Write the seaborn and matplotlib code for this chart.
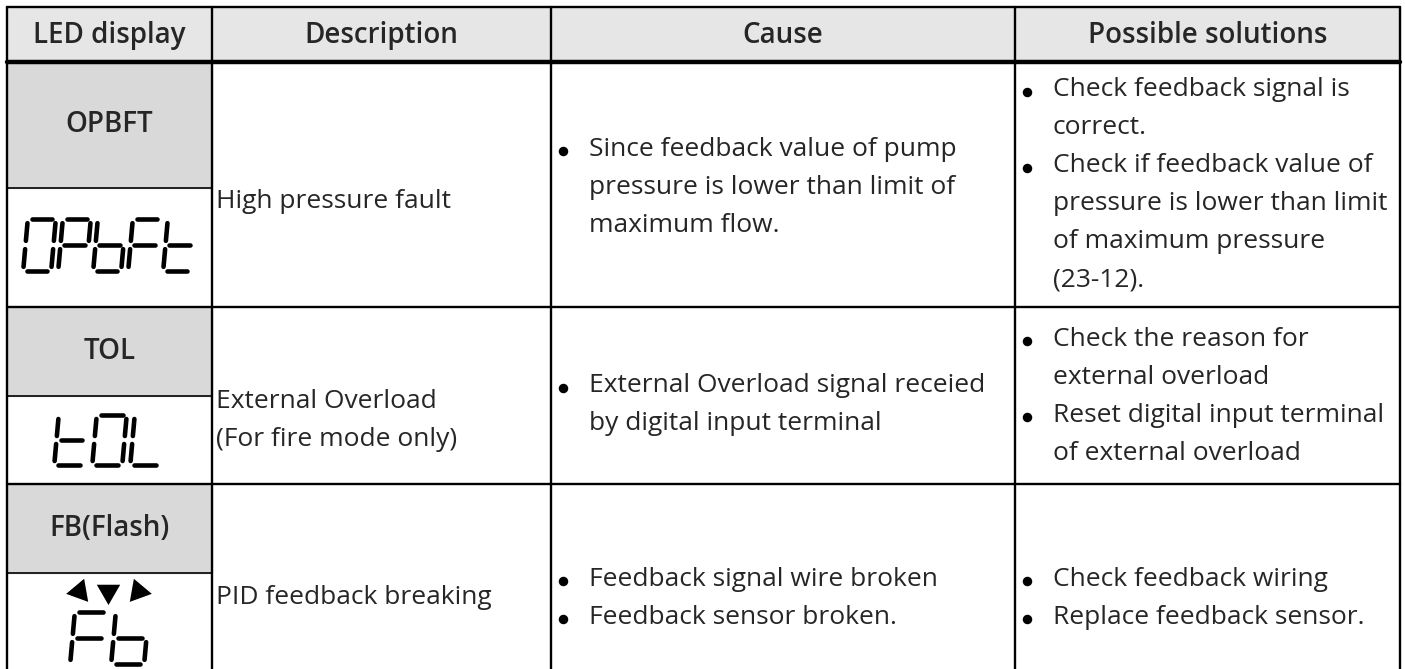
import numpy as np
import matplotlib.pyplot as plt
import seaborn as sns

# table content
headers = ["LED display", "Description", "Cause", "Possible solutions"]
led_codes = ["OPBFT", "TOL", "FB(Flash)"]
led_glyphs = ["OPbFt", "tOL", "Fb"]
descriptions = [["High pressure fault"],
                ["External Overload", "(For fire mode only)"],
                ["PID feedback breaking"]]
causes = [[["Since feedback value of pump", "pressure is lower than limit of", "maximum flow."]],
          [["External Overload signal receied", "by digital input terminal"]],
          [["Feedback signal wire broken"], ["Feedback sensor broken."]]]
solutions = [[["Check feedback signal is", "correct."],
              ["Check if feedback value of", "pressure is lower than limit",
               "of maximum pressure", "(23-12)."]],
             [["Check the reason for", "external overload"],
              ["Reset digital input terminal", "of external overload"]],
             [["Check feedback wiring"], ["Replace feedback sensor."]]]

# seven segment map
SEGMENTS = {
    "O": "abcdef", "P": "abefg", "b": "cdefg", "F": "aefg",
    "t": "defg", "L": "def",
}
SEG_POS = {
    "a": ((0.14, 1.0), (0.86, 1.0)),
    "b": ((1.0, 0.92), (1.0, 0.58)),
    "c": ((1.0, 0.42), (1.0, 0.08)),
    "d": ((0.14, 0.0), (0.86, 0.0)),
    "e": ((0.0, 0.42), (0.0, 0.08)),
    "f": ((0.0, 0.92), (0.0, 0.58)),
    "g": ((0.14, 0.5), (0.86, 0.5)),
}

# layout (pixels)
W, H = 1405, 669
col_x = [7, 212, 551, 1015, 1400]
top, head_bot = 7, 62
row_y = [62, 307, 484, 712]
gray_bot = [188, 396, 573]
desc_cy = [201, 420, 598]
cause_cy = [187, 405, 598]
sol_cy = [185, 396, 598]
pitch = 38
body_fs = 19
bold_fs = 20

sns.set_theme(style="white")
plt.rcParams['font.family'] = ['Open Sans', 'DejaVu Sans']

fig = plt.figure(figsize=(W / 100, H / 100), dpi=100)
ax = fig.add_axes([0, 0, 1, 1])
ax.set_xlim(0, W)
ax.set_ylim(H, 0)
ax.axis('off')

# backgrounds
ax.add_patch(plt.Rectangle((col_x[0], top), col_x[-1] - col_x[0], head_bot - top,
                           color='#e6e6e6', zorder=0))
for i in range(3):
    ax.add_patch(plt.Rectangle((col_x[0], row_y[i]), col_x[1] - col_x[0],
                               gray_bot[i] - row_y[i], color='#d9d9d9', zorder=0))

# grid lines
lw = 1.7
for x in col_x:
    ax.plot([x, x], [top, H], color='black', lw=lw, zorder=3)
ax.plot([col_x[0], col_x[-1]], [top, top], color='black', lw=lw, zorder=3)
ax.plot([col_x[0], col_x[-1]], [head_bot, head_bot], color='black', lw=3.2, zorder=3)
for y in row_y[1:-1]:
    ax.plot([col_x[0], col_x[-1]], [y, y], color='black', lw=lw, zorder=3)
for y in gray_bot:
    ax.plot([col_x[0], col_x[1]], [y, y], color='black', lw=1.2, zorder=3)

# headers
for i, h in enumerate(headers):
    ax.text((col_x[i] + col_x[i + 1]) / 2, (top + head_bot) / 2 + 1, h,
            ha='center', va='center', fontsize=bold_fs, fontweight='semibold')


def draw_glyphs(text, cx, cy, dw, dh, step, slant=0.09):
    n = len(text)
    total = (n - 1) * step + dw
    x0 = cx - total / 2
    for k, ch in enumerate(text):
        left = x0 + k * step
        for s in SEGMENTS[ch]:
            (u1, v1), (u2, v2) = SEG_POS[s]
            xs = [left + u1 * dw + (v1 - 0.5) * dh * slant,
                  left + u2 * dw + (v2 - 0.5) * dh * slant]
            ys = [cy + dh / 2 - v1 * dh, cy + dh / 2 - v2 * dh]
            ax.plot(xs, ys, color='black', lw=3.3, solid_capstyle='round', zorder=4)


def draw_lines(lines, x, cy):
    n = len(lines)
    for j, line in enumerate(lines):
        ax.text(x, cy + (j - (n - 1) / 2) * pitch, line, ha='left', va='center',
                fontsize=body_fs)


def draw_bullets(items, x, cy):
    flat = [(k, line) for k, item in enumerate(items) for line in item]
    n = len(flat)
    for j, (k, line) in enumerate(flat):
        y = cy + (j - (n - 1) / 2) * pitch
        if j == 0 or flat[j - 1][0] != k:
            ax.scatter([x + 12], [y + 2], s=34, color='black', zorder=4)
        ax.text(x + 38, y, line, ha='left', va='center', fontsize=body_fs)


# (digit width, digit height, digit step, centre y)
glyph_size = [(28, 52, 35, 245), (30, 50, 38, 440), (33, 52, 41, 638)]
cx1 = (col_x[0] + col_x[1]) / 2
for i in range(3):
    ax.text(cx1, (row_y[i] + gray_bot[i]) / 2, led_codes[i], ha='center', va='center',
            fontsize=bold_fs, fontweight='semibold')
    dw, dh, step, gy = glyph_size[i]
    draw_glyphs(led_glyphs[i], cx1, gy, dw, dh, step)
    draw_lines(descriptions[i], col_x[1] + 4, desc_cy[i])
    draw_bullets(causes[i], col_x[2], cause_cy[i])
    draw_bullets(solutions[i], col_x[3], sol_cy[i])

# flashing marks above Fb
flash_x = [79, 108, 138]
flash_ang = [-140, 180, 140]
for fx, ang in zip(flash_x, flash_ang):
    ax.scatter([fx], [591], marker=(3, 0, ang), s=380, color='black', zorder=4,
               linewidths=0)

fig.savefig("out.png", dpi=100)
